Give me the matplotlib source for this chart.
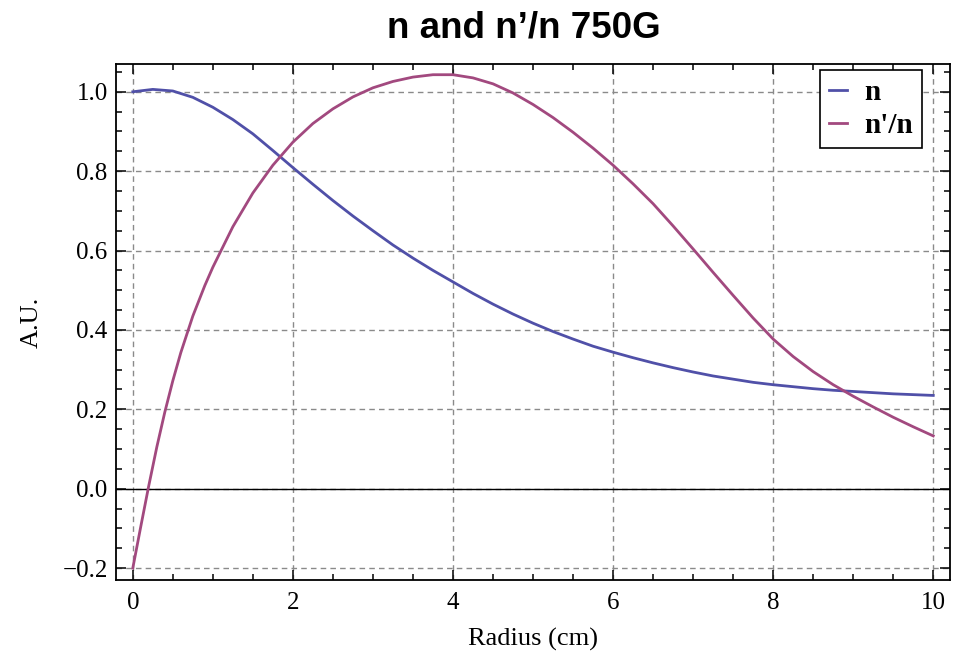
import matplotlib
matplotlib.use("Agg")
import matplotlib.pyplot as plt
from matplotlib.ticker import MultipleLocator

# values
radius_n = [0, 0.25, 0.5, 0.75, 1.0, 1.25, 1.5, 1.75, 2.0, 2.25, 2.5, 2.75, 3.0,
            3.25, 3.5, 3.75, 4.0, 4.25, 4.5, 4.75, 5.0, 5.25, 5.5, 5.75, 6.0,
            6.25, 6.5, 6.75, 7.0, 7.25, 7.5, 7.75, 8.0, 8.25, 8.5, 8.75, 9.0,
            9.25, 9.5, 9.75, 10.0]
n_vals = [1.000, 1.006, 1.002, 0.986, 0.961, 0.930, 0.894, 0.852, 0.809, 0.767,
          0.726, 0.687, 0.650, 0.614, 0.581, 0.550, 0.521, 0.492, 0.465, 0.440,
          0.417, 0.396, 0.377, 0.359, 0.344, 0.330, 0.317, 0.305, 0.294, 0.284,
          0.276, 0.268, 0.262, 0.257, 0.252, 0.248, 0.245, 0.242, 0.239, 0.237,
          0.235]

radius_dn = [0, 0.1, 0.2, 0.3, 0.4, 0.5, 0.6, 0.75, 0.9, 1.0, 1.25, 1.5, 1.75,
             2.0, 2.25, 2.5, 2.75, 3.0, 3.25, 3.5, 3.75, 4.0, 4.25, 4.5, 4.75,
             5.0, 5.25, 5.5, 5.75, 6.0, 6.25, 6.5, 6.75, 7.0, 7.25, 7.5, 7.75,
             8.0, 8.25, 8.5, 8.75, 9.0, 9.25, 9.5, 9.75, 10.0]
dn_vals = [-0.200, -0.095, 0.008, 0.105, 0.193, 0.272, 0.343, 0.435, 0.512, 0.558,
           0.660, 0.745, 0.815, 0.873, 0.920, 0.957, 0.987, 1.010, 1.026, 1.037,
           1.043, 1.043, 1.035, 1.020, 0.997, 0.968, 0.935, 0.898, 0.858, 0.815,
           0.768, 0.718, 0.662, 0.604, 0.545, 0.487, 0.430, 0.377, 0.333, 0.295,
           0.262, 0.233, 0.206, 0.180, 0.156, 0.133]

x_ticks = [0, 2, 4, 6, 8, 10]
y_ticks = [-0.2, 0.0, 0.2, 0.4, 0.6, 0.8, 1.0]
y_labels = ["\u22120.2", "0.0", "0.2", "0.4", "0.6", "0.8", "1.0"]

blue = "#5050a8"
magenta = "#a2497f"

fig = plt.figure(figsize=(9.61, 6.57), dpi=100)
ax = fig.add_axes([0.1207, 0.1172, 0.8679, 0.7854])

ax.plot(radius_n, n_vals, color=blue, lw=2.0, label="n", zorder=3)
ax.plot(radius_dn, dn_vals, color=magenta, lw=2.0, label="n'/n", zorder=3)
ax.axhline(0, color="black", lw=1.0, zorder=2)

ax.set_xlim(-0.21, 10.21)
ax.set_ylim(-0.23, 1.07)

#grid only on major ticks, dashed grey like the original
ax.set_xticks(x_ticks)
ax.set_yticks(y_ticks)
ax.set_yticklabels(y_labels)
ax.xaxis.set_minor_locator(MultipleLocator(0.5))
ax.yaxis.set_minor_locator(MultipleLocator(0.05))
ax.grid(True, which="major", color="#8a8a8a", ls=(0, (4, 3)), lw=1.0, zorder=1)

ax.tick_params(which="both", direction="in", top=True, right=True, width=1.1,
               labelsize=18, pad=6)
ax.tick_params(axis="x", which="major", pad=9)
ax.tick_params(which="major", length=7)
ax.tick_params(which="minor", length=4)
for lab in ax.get_xticklabels() + ax.get_yticklabels():
    lab.set_family("Liberation Serif")
for sp in ax.spines.values():
    sp.set_linewidth(1.3)

ax.set_xlabel("Radius (cm)", family="Liberation Serif", fontsize=19, labelpad=10)
ax.set_ylabel("A.U.", family="Liberation Serif", fontsize=19, labelpad=14)

leg = ax.legend(loc="upper right", bbox_to_anchor=(0.966, 0.988), borderaxespad=0,
                prop={"family": "Liberation Serif", "weight": "bold", "size": 21},
                handlelength=0.6, handletextpad=0.6, labelspacing=0.2,
                borderpad=0.3, fancybox=False, framealpha=1, edgecolor="black")
leg.get_frame().set_linewidth(1.2)

fig.text(0.545, 0.958, "n and n\u2019/n 750G", family="Liberation Sans",
         fontweight="bold", fontsize=26.5, ha="center", va="center")

plt.savefig("out.png", dpi=100)
